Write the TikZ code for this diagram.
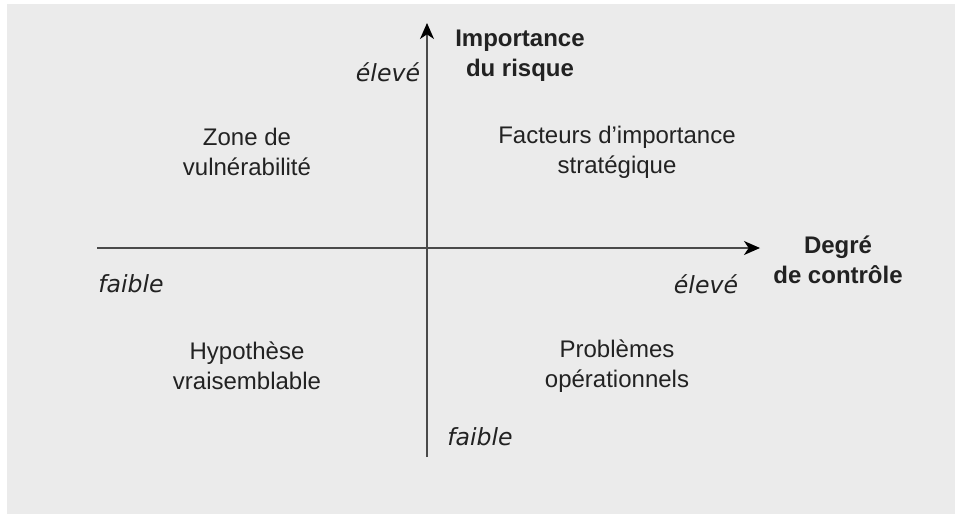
\documentclass[tikz,border=0pt]{standalone}
\usepackage{fontspec}
\setmainfont{Liberation Sans}
\newfontfamily\dvs{DejaVu Sans}
\usetikzlibrary{arrows.meta}
\definecolor{bg}{HTML}{EBEBEB}
\definecolor{ink}{HTML}{222222}
\definecolor{axis}{HTML}{4A4A4A}
\tikzset{
  lbl/.style={text=ink, align=center, font=\fontsize{18}{22.5}\selectfont, inner sep=0pt},
  axlbl/.style={text=ink, align=center, font=\fontsize{18}{22.5}\selectfont\bfseries, inner sep=0pt},
  lvl/.style={text=ink, font=\fontsize{17.7}{21}\selectfont\dvs\itshape, inner sep=0pt},
  axisline/.style={draw=axis, line width=1.1pt, -{Stealth[length=12pt, width=10.5pt, inset=3.5pt, color=black]}}
}
\begin{document}
\begin{tikzpicture}[x=0.75pt, y=-0.75pt]
\useasboundingbox (0,0) rectangle (955,514);
\fill[bg] (7,4) rectangle (955,514);
\coordinate (xs) at (97,248);
\coordinate (xe) at (760,248);
\coordinate (ys) at (427,457);
\coordinate (ye) at (427,23);
\draw[axisline] (xs) -- (xe);
\draw[axisline] (ys) -- (ye);
\node[axlbl] (yl) at (520,56) {Importance\\du risque};
\node[axlbl] (xl) at (838,260) {Degré\\de contrôle};
\node[lvl] (yhi) at (388,72) {élevé};
\node[lvl] (ylo) at (480,437) {faible};
\node[lvl] (xlo) at (131,284) {faible};
\node[lvl] (xhi) at (706,284) {élevé};
\node[lbl] (q1) at (247,152) {Zone de\\vulnérabilité};
\node[lbl] (q2) at (617,152) {Facteurs d’importance\\stratégique};
\node[lbl] (q3) at (247,366) {Hypothèse\\vraisemblable};
\node[lbl] (q4) at (617,366) {Problèmes\\opérationnels};
\end{tikzpicture}
\end{document}
